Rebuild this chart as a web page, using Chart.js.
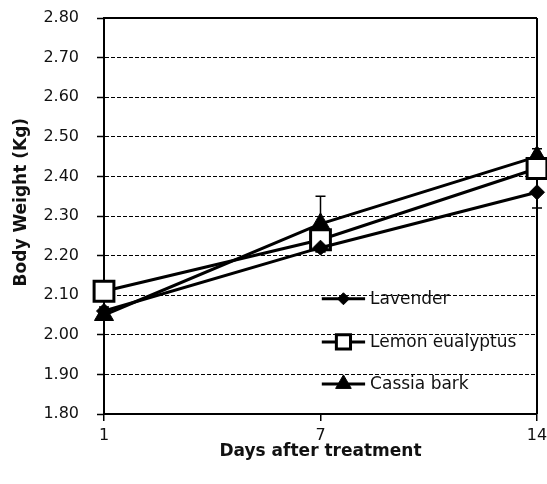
<!DOCTYPE html>
<html><head><meta charset="utf-8">
<script src="https://cdn.jsdelivr.net/npm/chart.js@4"></script>
<style>html,body{margin:0;padding:0;background:#fff}</style>
</head><body>
<canvas id="c" width="547" height="484" style="display:block;width:547px;height:484px"></canvas>
<script>
const days = ['1', '7', '14'];
const seriesNames = ['Lavender', 'Lemon eualyptus', 'Cassia bark'];
const lavender = [2.06, 2.22, 2.36];
const lemonEucalyptus = [2.11, 2.24, 2.42];
const cassiaBark = [2.05, 2.28, 2.45];
const lavenderErr = [0.01, 0.01, 0.04];
const lemonErr = [0.01, 0.02, 0.02];
const cassiaErr = [0.01, 0.07, 0.02];
const yMin = 1.80, yMax = 2.80, yStep = 0.10;
const yTitle = 'Body Weight (Kg)';
const xTitle = 'Days after treatment';

const styles = [
  {pointStyle: 'rectRot', radius: 7.5, bg: '#000', legendRadius: 6, bw: 1},
  {pointStyle: 'rect', radius: 14, bg: '#fff', legendRadius: 10, bw: 3},
  {pointStyle: 'triangle', radius: 11, bg: '#000', legendRadius: 9, bw: 1}
];
const seriesValues = [lavender, lemonEucalyptus, cassiaBark];
const seriesErrors = [lavenderErr, lemonErr, cassiaErr];

const datasets = seriesValues.map((vals, i) => ({
  label: seriesNames[i],
  data: vals,
  errors: seriesErrors[i],
  borderColor: '#000',
  borderWidth: 3,
  tension: 0,
  clip: 20,
  pointStyle: styles[i].pointStyle,
  pointRadius: styles[i].radius,
  pointHoverRadius: styles[i].radius,
  pointBackgroundColor: styles[i].bg,
  pointBorderColor: '#000',
  pointBorderWidth: styles[i].bw
}));

const extras = {
  id: 'extras',
  beforeDatasetsDraw(chart) {
    const ctx = chart.ctx, a = chart.chartArea;
    const xs = chart.scales.x, ys = chart.scales.y;
    ctx.save();
    ctx.strokeStyle = '#000';
    ctx.lineWidth = 2;
    ctx.setLineDash([]);
    ctx.beginPath();
    ctx.moveTo(a.left, a.top); ctx.lineTo(a.right, a.top);
    ctx.moveTo(a.right, a.top); ctx.lineTo(a.right, a.bottom);
    ctx.stroke();
    // error bars
    ctx.lineWidth = 1.5;
    chart.data.datasets.forEach(ds => {
      ds.data.forEach((v, j) => {
        const e = ds.errors[j];
        const x = xs.getPixelForValue(j);
        const y1 = ys.getPixelForValue(v + e), y2 = ys.getPixelForValue(v - e);
        ctx.beginPath();
        ctx.moveTo(x, y1); ctx.lineTo(x, y2);
        ctx.moveTo(x - 5, y1); ctx.lineTo(x + 5, y1);
        ctx.moveTo(x - 5, y2); ctx.lineTo(x + 5, y2);
        ctx.stroke();
      });
    });
    ctx.restore();
  },
  afterDraw(chart) {
    const ctx = chart.ctx, a = chart.chartArea;
    const w = a.right - a.left, h = a.bottom - a.top;
    const x0 = a.left + w * 0.503, x1 = a.left + w * 0.603, xm = (x0 + x1) / 2;
    const rows = [0.709, 0.818, 0.924];
    ctx.save();
    chart.data.datasets.forEach((ds, i) => {
      const y = a.top + h * rows[i];
      ctx.strokeStyle = '#000';
      ctx.lineWidth = 3;
      ctx.setLineDash([]);
      ctx.beginPath(); ctx.moveTo(x0, y); ctx.lineTo(x1, y); ctx.stroke();
      ctx.fillStyle = styles[i].bg;
      ctx.lineWidth = styles[i].bw;
      Chart.helpers.drawPoint(ctx, {pointStyle: styles[i].pointStyle, radius: styles[i].legendRadius, rotation: 0, borderWidth: styles[i].bw}, xm, y);
      ctx.fillStyle = '#111';
      ctx.font = '17px "DejaVu Sans"';
      ctx.textAlign = 'left';
      ctx.textBaseline = 'middle';
      ctx.fillText(ds.label, x1 + 5, y + 1);
    });
    // y axis title
    ctx.translate(22, a.top + h * 0.465);
    ctx.rotate(-Math.PI / 2);
    ctx.fillStyle = '#111';
    ctx.font = 'bold 17px "DejaVu Sans"';
    ctx.textAlign = 'center';
    ctx.textBaseline = 'middle';
    ctx.fillText(yTitle, 0, 0);
    ctx.restore();
  }
};

new Chart(document.getElementById('c'), {
  type: 'line',
  data: {labels: days, datasets},
  plugins: [extras],
  options: {
    responsive: false,
    animation: false,
    devicePixelRatio: 1,
    layout: {autoPadding: false, padding: {top: 18, right: 10, bottom: 0, left: 0}},
    plugins: {legend: {display: false}, tooltip: {enabled: false}},
    scales: {
      x: {
        type: 'category',
        offset: false,
        afterFit(s) { s.height = 70; s.paddingLeft = 0; s.paddingRight = 0; },
        grid: {display: true, drawOnChartArea: false, drawTicks: true, tickLength: 7, color: '#000', lineWidth: 1.5},
        border: {display: true, color: '#000', width: 2},
        ticks: {color: '#111', font: {family: 'DejaVu Sans', size: 16}, padding: 5, maxRotation: 0, autoSkip: false},
        title: {display: true, text: xTitle, color: '#111', font: {family: 'DejaVu Sans', size: 17, weight: 'bold'}, padding: {top: 0, bottom: 22}}
      },
      y: {
        min: yMin, max: yMax,
        afterFit(s) { s.width = 104; s.paddingTop = 0; s.paddingBottom = 0; },
        grid: {color: '#000', lineWidth: 1, drawTicks: true, tickLength: 7, tickColor: '#000', tickWidth: 1.5, tickBorderDash: []},
        border: {display: true, color: '#000', width: 2, dash: [4, 2]},
        ticks: {stepSize: yStep, color: '#111', font: {family: 'DejaVu Sans', size: 16}, padding: 18, callback: v => Number(v).toFixed(2)},
        title: {display: false}
      }
    }
  }
});
</script>
</body></html>
